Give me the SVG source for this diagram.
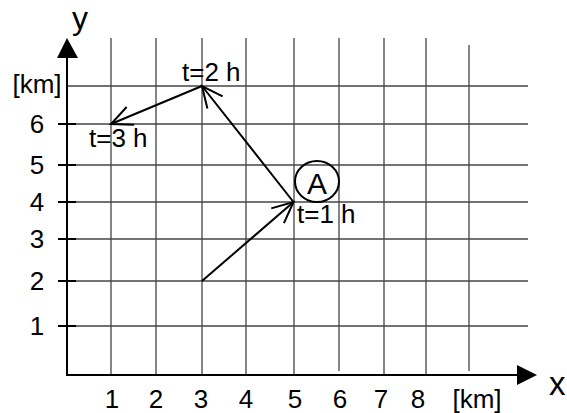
<svg xmlns="http://www.w3.org/2000/svg" width="567" height="413" viewBox="0 0 567 413">
<defs>
<style>
text{font-family:"Liberation Sans",Arial,sans-serif;fill:#000}
.lbl{font-size:26px;text-anchor:middle}
.t{font-size:26px}
.grid line{stroke:#444;stroke-width:1.3}
.ax{stroke:#000;stroke-width:2;fill:none}
.tick{stroke:#000;stroke-width:2}
.conn{stroke:#000;stroke-width:2;fill:none;marker-end:url(#open)}
</style>
<marker id="open" markerUnits="userSpaceOnUse" markerWidth="30" markerHeight="30" viewBox="-25 -15 30 30" refX="0" refY="0" orient="auto">
<path d="M-21,-9.7 L0,0 L-21,9.7" fill="none" stroke="#000" stroke-width="2"/>
</marker>
</defs>
<rect width="567" height="413" fill="#fff"/>
<g class="grid" id="grid">
<line x1="111" y1="38" x2="111" y2="375"/>
<line x1="156" y1="38" x2="156" y2="375"/>
<line x1="202" y1="38" x2="202" y2="375"/>
<line x1="246" y1="38" x2="246" y2="375"/>
<line x1="294" y1="38" x2="294" y2="375"/>
<line x1="339" y1="38" x2="339" y2="371"/>
<line x1="384" y1="38" x2="384" y2="375"/>
<line x1="426" y1="38" x2="426" y2="375"/>
<line x1="469" y1="45" x2="469" y2="371"/>
<line x1="67" y1="86" x2="528" y2="86"/>
<line x1="67" y1="124" x2="528" y2="124"/>
<line x1="67" y1="165" x2="528" y2="165"/>
<line x1="67" y1="202" x2="528" y2="202"/>
<line x1="67" y1="239" x2="528" y2="239"/>
<line x1="67" y1="281" x2="528" y2="281"/>
<line x1="67" y1="326" x2="528" y2="326"/>
</g>
<g id="axes">
<line class="ax" x1="67" y1="56" x2="67" y2="375"/>
<line class="ax" x1="66" y1="375" x2="519" y2="375"/>
<path d="M67,38 L78,58 L57,58 Z" fill="#000"/>
<path d="M537,375 L517,365 L517,385 Z" fill="#000"/>
<line class="tick" x1="58" y1="124" x2="76" y2="124"/>
<line class="tick" x1="58" y1="165" x2="76" y2="165"/>
<line class="tick" x1="58" y1="202" x2="76" y2="202"/>
<line class="tick" x1="58" y1="239" x2="76" y2="239"/>
<line class="tick" x1="58" y1="281" x2="76" y2="281"/>
<line class="tick" x1="58" y1="326" x2="76" y2="326"/>
<text x="80" y="29" style="font-size:32px;text-anchor:middle">y</text>
<text x="549" y="395" style="font-size:33px">x</text>
<text class="lbl" x="37" y="93">[km]</text>
<text class="lbl" x="37" y="133">6</text>
<text class="lbl" x="37" y="174">5</text>
<text class="lbl" x="37" y="211">4</text>
<text class="lbl" x="37" y="248">3</text>
<text class="lbl" x="37" y="290">2</text>
<text class="lbl" x="37" y="335">1</text>
<text class="lbl" x="112" y="408">1</text>
<text class="lbl" x="156" y="408">2</text>
<text class="lbl" x="201" y="408">3</text>
<text class="lbl" x="246" y="408">4</text>
<text class="lbl" x="295" y="408">5</text>
<text class="lbl" x="340" y="408">6</text>
<text class="lbl" x="381" y="408">7</text>
<text class="lbl" x="418" y="408">8</text>
<text class="lbl" x="477" y="408">[km]</text>
</g>
<g id="connectors">
<line class="conn" x1="202" y1="281" x2="293.5" y2="202"/>
<line class="conn" x1="293.5" y1="202" x2="202" y2="86"/>
<line class="conn" x1="202" y1="86" x2="111" y2="124"/>
</g>
<g id="node-t1">
<text class="t" x="297" y="223">t=1 h</text>
</g>
<g id="node-t2">
<text class="t" x="182" y="81">t=2 h</text>
</g>
<g id="node-t3">
<text class="t" x="89" y="147">t=3 h</text>
</g>
<g id="node-A">
<ellipse cx="317" cy="181.5" rx="22" ry="20.5" fill="none" stroke="#000" stroke-width="2"/>
<text x="317" y="194" style="font-size:30px;text-anchor:middle">A</text>
</g>
</svg>
